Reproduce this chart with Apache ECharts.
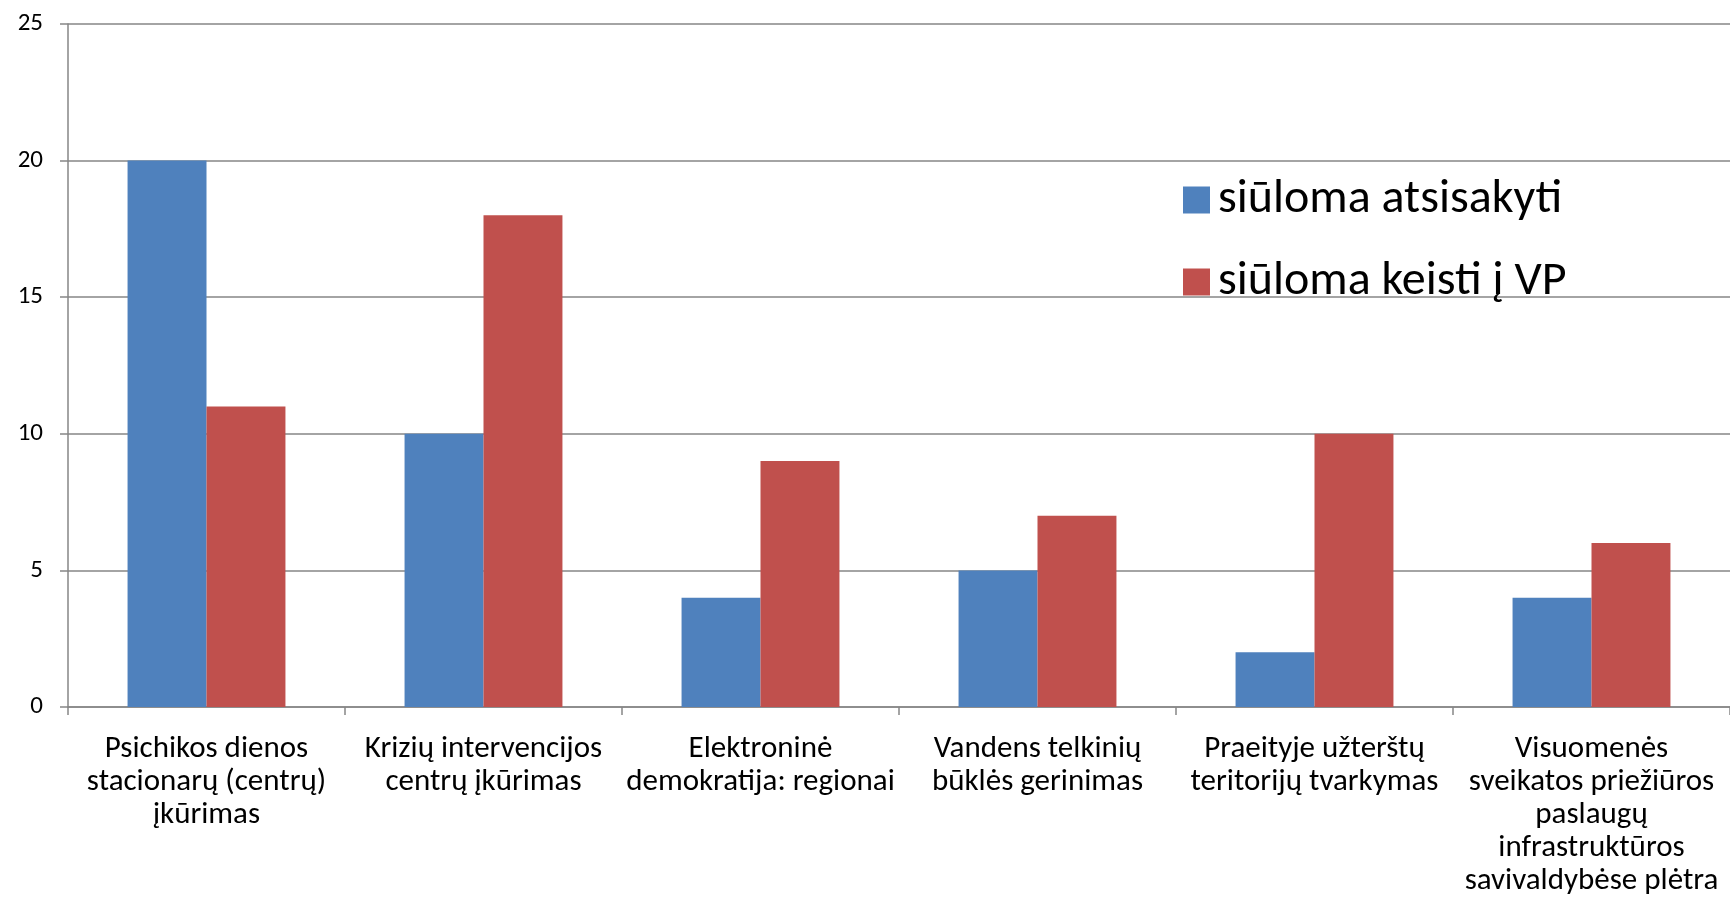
<!DOCTYPE html>
<html>
<head>
<meta charset="utf-8">
<script src="https://cdn.jsdelivr.net/npm/echarts@6/dist/echarts.min.js"></script>
<style>html,body{margin:0;padding:0;background:#fff}#c{width:1730px;height:920px}</style>
</head>
<body>
<div id="c"></div>
<script>
const categories = [
  "Psichikos dienos\nstacionarų (centrų)\nįkūrimas",
  "Krizių intervencijos\ncentrų įkūrimas",
  "Elektroninė\ndemokratija: regionai",
  "Vandens telkinių\nbūklės gerinimas",
  "Praeityje užterštų\nteritorijų tvarkymas",
  "Visuomenės\nsveikatos priežiūros\npaslaugų\ninfrastruktūros\nsavivaldybėse plėtra"
];
const seriesNames = ["siūloma atsisakyti", "siūloma keisti į VP"];
const atsisakyti = [20, 10, 4, 5, 2, 4];
const keisti = [11, 18, 9, 7, 10, 6];
const yTicks = {min: 0, max: 25, interval: 5};

const chart = echarts.init(document.getElementById('c'));
const font = "Carlito, 'Open Sans', 'Liberation Sans', sans-serif";
chart.setOption({
  animation: false,
  textStyle: {fontFamily: font},
  grid: {left: 68, top: 24, bottom: 213, right: -10, containLabel: false},
  legend: {
    orient: 'vertical', left: 1183, top: 176, padding: 0,
    itemWidth: 27, itemHeight: 27, itemGap: 34,
    icon: 'rect',
    textStyle: {fontSize: 48, lineHeight: 48, color: '#000', fontFamily: font, padding: [0,0,0,3]},
    data: seriesNames
  },
  xAxis: {
    type: 'category', data: categories,
    axisLine: {lineStyle: {color: '#868686', width: 1.5}},
    axisTick: {show: true, length: 8, lineStyle: {color: '#868686', width: 1.5}},
    axisLabel: {interval: 0, fontSize: 31, lineHeight: 33, color: '#000', margin: 26, fontFamily: font}
  },
  yAxis: {
    type: 'value', min: yTicks.min, max: yTicks.max, interval: yTicks.interval,
    axisLine: {show: true, lineStyle: {color: '#868686', width: 1.5}},
    axisTick: {show: true, length: 8, lineStyle: {color: '#868686', width: 1.5}},
    splitLine: {lineStyle: {color: '#868686', width: 1.5}},
    axisLabel: {fontSize: 25, color: '#000', margin: 25, fontFamily: font}
  },
  series: [
    {name: seriesNames[0], type: 'bar', data: atsisakyti, itemStyle: {color: '#4F81BD'}, barGap: '0%', barCategoryGap: '43%'},
    {name: seriesNames[1], type: 'bar', data: keisti, itemStyle: {color: '#C0504D'}, barGap: '0%', barCategoryGap: '43%'}
  ]
});
</script>
</body>
</html>
